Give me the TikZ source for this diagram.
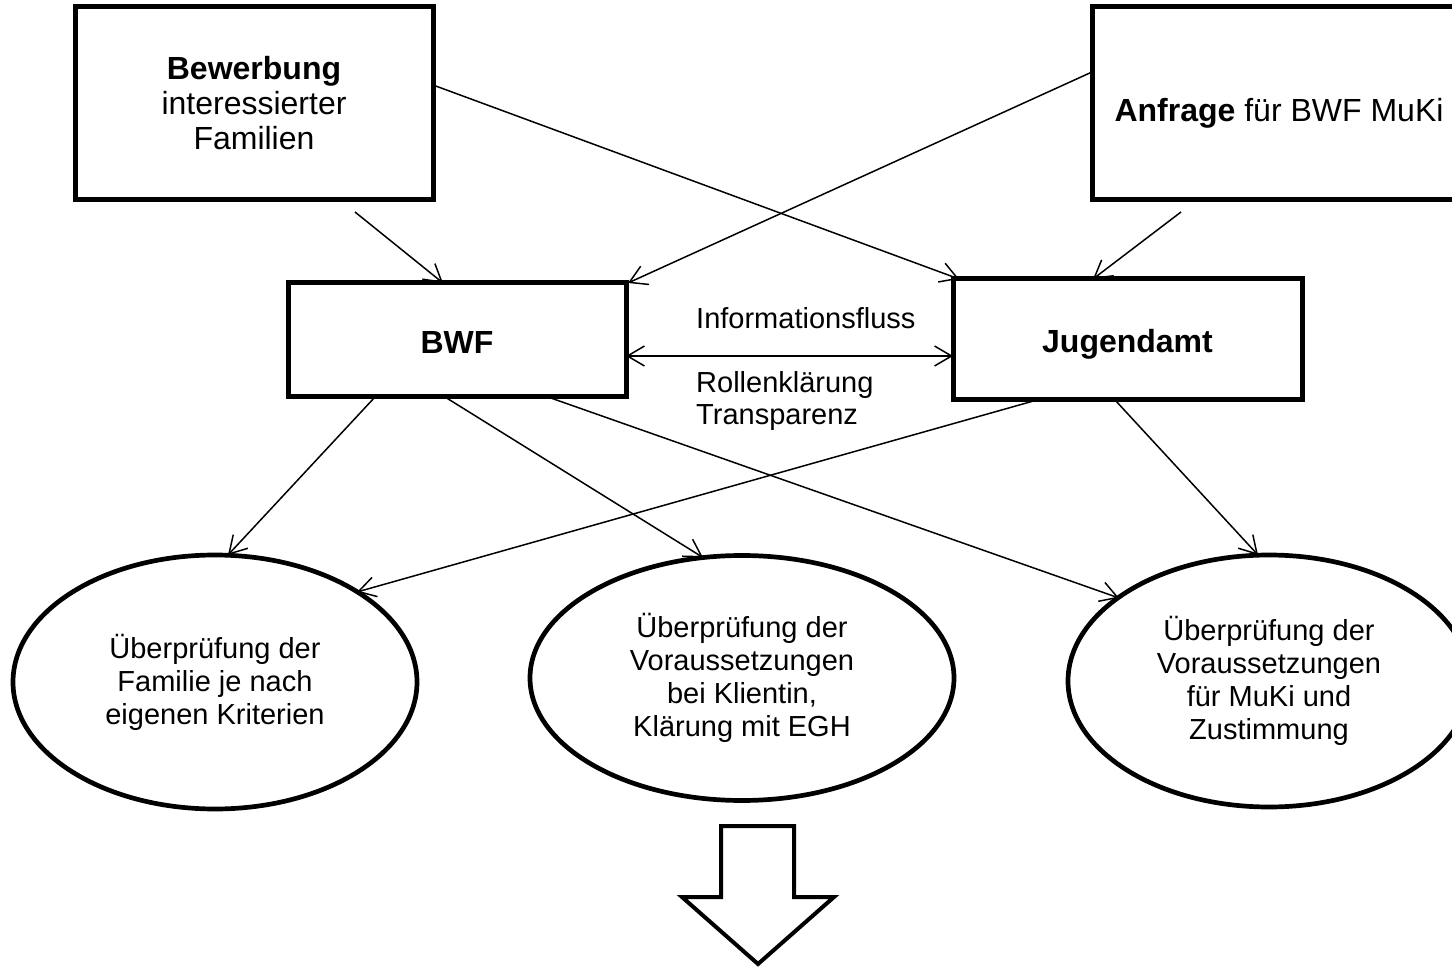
\documentclass[tikz,border=0pt]{standalone}
\usepackage{fontspec}
\setmainfont{Liberation Sans}
\usetikzlibrary{arrows.meta,shapes.geometric,calc}
\begin{document}
\begin{tikzpicture}[x=1pt,y=-1pt,
  box/.style={draw, line width=5pt, inner sep=0pt, outer sep=0pt, align=center,
    font=\fontsize{32}{35}\selectfont},
  oval/.style={draw, ellipse, line width=4.7pt, inner sep=0pt, outer sep=0pt, align=center,
    font=\fontsize{29}{33}\selectfont},
  lbl/.style={anchor=west, inner sep=0pt, font=\fontsize{29}{33}\selectfont},
  tipb/.tip={Straight Barb[length=17pt,width=20pt]},
  conn/.style={line width=1.5pt, -tipb},
  dconn/.style={line width=1.5pt, tipb-tipb},
  bigarrow/.style={draw, line width=4pt, line join=miter, fill=white}
]
\useasboundingbox (0,0) rectangle (1452,968);

% boxes
\node[box, minimum width=358pt, minimum height=193pt] (bew) at (254,103.5)
  {\textbf{Bewerbung}\\interessierter\\Familien};
\node[box, minimum width=374pt, minimum height=193pt, text height=36pt, text depth=0pt] (anf) at (1279,103.5)
  {\textbf{Anfrage} für BWF MuKi};
\node[box, minimum width=338pt, minimum height=114pt, text height=27pt, text depth=0pt] (bwf) at (457,340) {\textbf{BWF}};
\node[box, minimum width=349pt, minimum height=121pt, text height=27pt, text depth=0pt] (jug) at (1127.5,339.5) {\textbf{Jugendamt}};

% ellipses
\node[oval, minimum width=404pt, minimum height=254pt] (e1) at (215,682)
  {Überprüfung der\\Familie je nach\\eigenen Kriterien};
\node[oval, minimum width=424pt, minimum height=245pt] (e2) at (742,678)
  {Überprüfung der\\Voraussetzungen\\bei Klientin,\\Klärung mit EGH};
\node[oval, minimum width=402pt, minimum height=252pt] (e3) at (1269,681)
  {Überprüfung der\\Voraussetzungen\\für MuKi und\\Zustimmung};

% labels
\node[lbl] (l1) at (696,318) {Informationsfluss};
\node[lbl] (l2) at (696,385) {Rollenklärung};
\node[lbl] (l3) at (696,418) {Transparenz};

% free start points
\coordinate (s1) at (355,212);
\coordinate (s2) at (1181,212);

% connectors
\draw[conn] (s1) -- ($(bwf.north)+(-14,0)$);
\draw[conn] ($(bew.east)+(0,-18.5)$) -- ($(jug.north west)+(6,0)$);
\draw[conn] ($(anf.west)+(0,-31.5)$) -- ($(bwf.north east)+(2,0)$);
\draw[conn] (s2) -- ($(jug.north)+(-34.5,0)$);
\draw[dconn] ($(bwf.east)+(0,16)$) -- ($(jug.west)+(0,16.5)$);
\draw[conn] ($(bwf.south)+(-82,0)$) -- ($(e1.north)+(13,0)$);
\draw[conn] ($(bwf.south)+(-12,0)$) -- ($(e2.north)+(-39,2)$);
\draw[conn] ($(bwf.south)+(91,0)$) -- ($(e3.center)+(-150,-83)$);
\draw[conn] ($(jug.south)+(-90.5,0)$) -- ($(e1.center)+(142,-90)$);
\draw[conn] ($(jug.south)+(-12.5,0)$) -- ($(e3.north)+(-11,0)$);

% big down arrow
\draw[bigarrow] (721,826) -- (794,826) -- (794,897) -- (834,897) -- (758,964)
  -- (682,897) -- (721,897) -- cycle;
\end{tikzpicture}
\end{document}
